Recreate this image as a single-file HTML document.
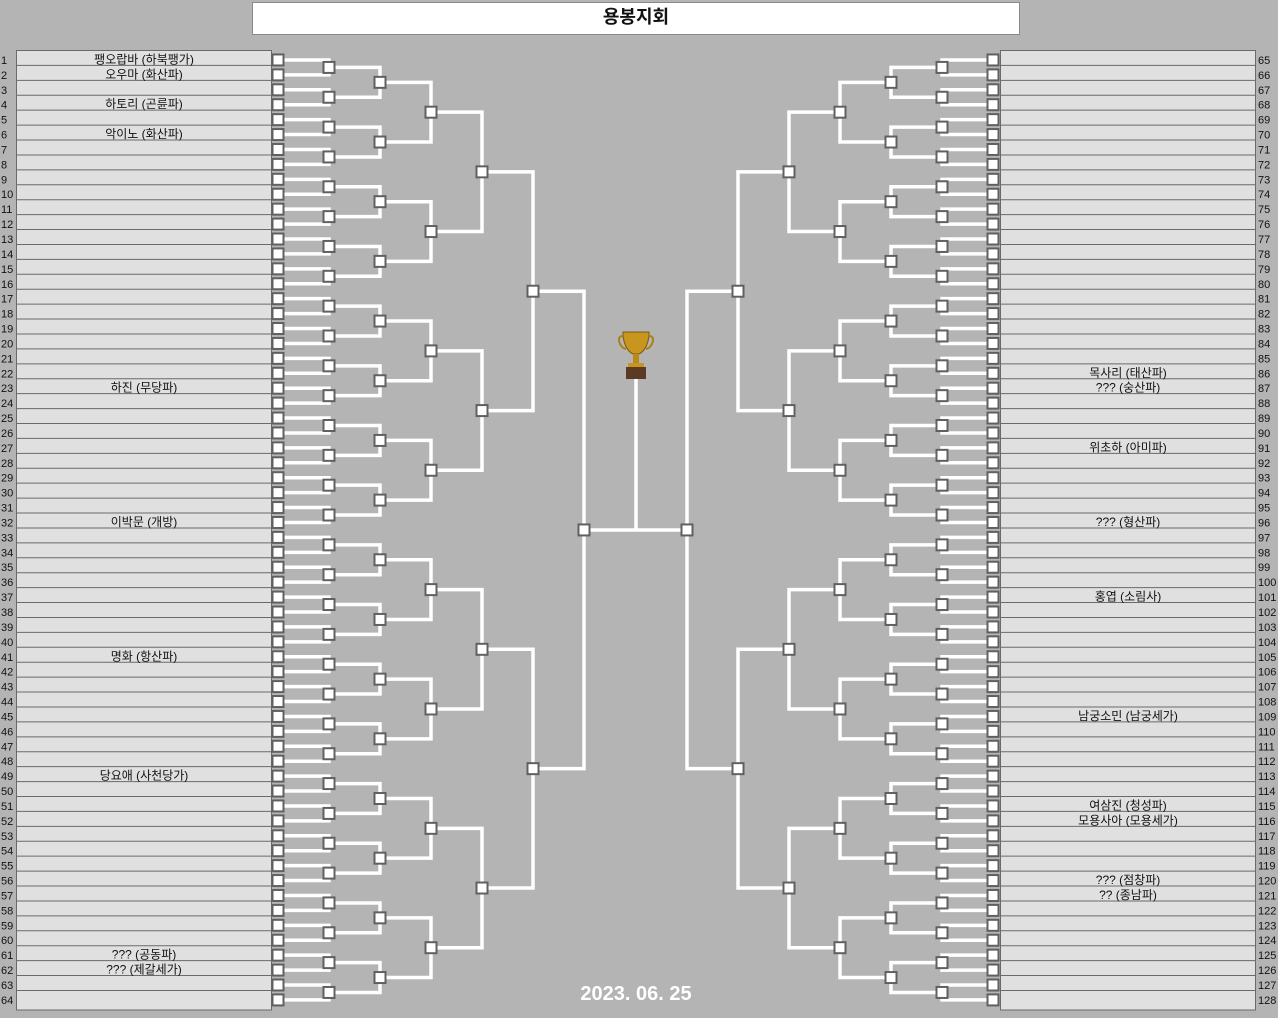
<!DOCTYPE html>
<html><head><meta charset="utf-8">
<style>
html,body{margin:0;padding:0;background:#b4b4b4;width:1278px;height:1018px;overflow:hidden;font-family:"Liberation Sans","Noto Sans CJK KR",sans-serif}
svg{position:absolute;left:0;top:0}
</style></head><body>
<svg id="s" width="1278" height="1018" xmlns="http://www.w3.org/2000/svg">
<rect x="252.5" y="2.5" width="767" height="32" fill="#fff" stroke="#8a8a8a"/>
<text x="636" y="23" text-anchor="middle" font-size="18" font-weight="bold" fill="#111" font-family="Liberation Sans, Noto Sans CJK KR, sans-serif">용봉지회</text>
<g id="g"></g>
<text x="636" y="1000" text-anchor="middle" font-size="20" font-weight="bold" fill="#fff" font-family="Liberation Sans, sans-serif">2023. 06. 25</text>
</svg>
<script>
var g=document.getElementById('g'),h='';
var RH=14.92,TOP=50.5;
function c(i){return TOP+RH*(i-0.5)+2;}
var names={1:"팽오랍바 (하북팽가)",2:"오우마 (화산파)",4:"하토리 (곤륜파)",6:"악이노 (화산파)",23:"하진 (무당파)",32:"이박문 (개방)",41:"명화 (항산파)",49:"당요애 (사천당가)",61:"??? (공동파)",62:"??? (제갈세가)",
86:"목사리 (태산파)",87:"??? (숭산파)",91:"위초하 (아미파)",96:"??? (형산파)",101:"홍엽 (소림사)",109:"남궁소민 (남궁세가)",115:"여삼진 (청성파)",116:"모용사아 (모용세가)",120:"??? (점창파)",121:"?? (종남파)"};
var F='font-family="Liberation Sans, Noto Sans CJK KR, sans-serif"';
[[16,0],[1000,64]].forEach(function(p){
 var x=p[0],off=p[1];
 h+='<rect x="'+(x+.5)+'" y="'+TOP+'" width="255" height="'+(1010-TOP)+'" fill="#e0e0e0" stroke="#6a6a6a"/>';
 for(var i=1;i<64;i++){var y=TOP+RH*i;h+='<line x1="'+x+'" x2="'+(x+256)+'" y1="'+y+'" y2="'+y+'" stroke="#6a6a6a"/>';}
 for(var i=1;i<=64;i++){var n=i+off,y=c(i);
  if(off==0)h+='<text x="1" y="'+(y+4)+'" font-size="11" fill="#111" '+F+'>'+n+'</text>';
  else h+='<text x="1258" y="'+(y+4)+'" font-size="11" fill="#111" '+F+'>'+n+'</text>';
  if(names[n])h+='<text x="'+(x+128)+'" y="'+(y+3.5)+'" text-anchor="middle" font-size="12" fill="#111" '+F+'>'+names[n]+'</text>';
 }
});
var XL=[278,329,380,431,482,533,584],XR=[993,942,891,840,789,738,687];
var lines='',boxes='';
function box(x,y){boxes+='<rect x="'+(x-5.5)+'" y="'+(y-5.5)+'" width="11" height="11" fill="#fff" stroke="#606060" stroke-width="2"/>';}
[XL,XR].forEach(function(X){
 var ys=[];for(var i=1;i<=64;i++){ys.push(c(i));box(X[0],c(i));}
 for(var r=1;r<7;r++){var ny=[];
  for(var k=0;k<ys.length;k+=2){var a=ys[k],b=ys[k+1],m=(a+b)/2;
   lines+='<polyline points="'+X[r-1]+','+a+' '+X[r]+','+a+' '+X[r]+','+b+' '+X[r-1]+','+b+'" fill="none" stroke="#fff" stroke-width="3.5"/>';
   box(X[r],m);ny.push(m);}
  ys=ny;}
});
var fy=(c(32)+c(33))/2;
lines+='<line x1="584" x2="687" y1="'+fy+'" y2="'+fy+'" stroke="#fff" stroke-width="3.5"/>';
lines+='<line x1="636" x2="636" y1="'+fy+'" y2="378" stroke="#fff" stroke-width="3.5"/>';
var tr='<g><path d="M623,332 h26 v4 q-2,14 -10,18 h-6 q-8,-4 -10,-18z" fill="#c8961e" stroke="#7a5a10" stroke-width="1"/>'+
'<path d="M623,336 q-6,0 -3,8 q2,4 6,5" fill="none" stroke="#b08018" stroke-width="2"/><path d="M649,336 q6,0 3,8 q-2,4 -6,5" fill="none" stroke="#b08018" stroke-width="2"/>'+
'<rect x="633" y="354" width="6" height="10" fill="#b88a1a"/><rect x="628" y="363" width="16" height="4" fill="#c8961e"/>'+
'<rect x="626" y="367" width="20" height="12" fill="#5a3a22"/></g>';
g.innerHTML=h+lines+boxes+tr;
</script>
</body></html>
